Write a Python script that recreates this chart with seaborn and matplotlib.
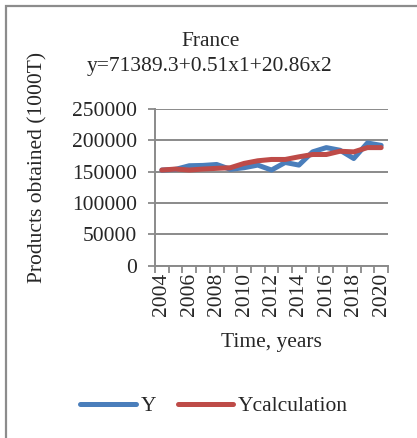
import matplotlib
matplotlib.use("Agg")
import matplotlib.pyplot as plt
import matplotlib.patches as mpatches
from matplotlib.ticker import FixedLocator
import pandas as pd
import seaborn as sns

YEARS = list(range(2004, 2021))
Y_ACTUAL = [152600, 153700, 159500, 160000, 161500, 153700, 156300, 160500, 152600,
            164700, 160500, 181600, 188400, 184200, 171000, 195800, 192000]
Y_CALC = [152600, 154200, 152600, 154200, 155300, 156300, 163200, 167400, 169500,
          169500, 173700, 177400, 177400, 182600, 181600, 188400, 188400]
SERIES = ["Y", "Ycalculation"]
COLORS = ["#4A7EBB", "#BE4B48"]
TITLE = "France"
EQUATION = "y=71389.3+0.51x1+20.86x2"
GRID = "#8a8a8a"
FS = 15.5

df = pd.DataFrame({
    "year": YEARS * 2,
    "value": Y_ACTUAL + Y_CALC,
    "series": [SERIES[0]] * len(YEARS) + [SERIES[1]] * len(YEARS),
})

sns.set_theme(style="white")
plt.rcParams["font.family"] = ["Liberation Serif", "DejaVu Serif"]
plt.rcParams["font.size"] = FS

W, H = 417, 438
fig = plt.figure(figsize=(W / 100, H / 100), dpi=100)
ax = fig.add_axes([155 / W, 1 - 265.7 / H, (388 - 155) / W, (265.7 - 109) / H])

sns.lineplot(data=df, x="year", y="value", hue="series", palette=COLORS,
             linewidth=3.6, ax=ax, legend=True, solid_capstyle="round")

ax.set_xlim(2003.5, 2020.5)
ax.set_ylim(0, 250000)
ax.set_yticks(range(0, 250001, 50000))
ax.set_xticks(YEARS[::2])
ax.set_xticklabels([str(y) for y in YEARS[::2]], rotation=90, fontsize=FS)
ax.xaxis.set_minor_locator(FixedLocator([y - 0.5 for y in YEARS] + [2020.5]))
ax.tick_params(axis="x", which="major", length=0, pad=5)
ax.tick_params(axis="x", which="minor", length=5, width=1.3, color=GRID, direction="out")
ax.tick_params(axis="y", length=5, width=1.3, color=GRID, pad=8, labelsize=FS, left=True)
ax.tick_params(axis="x", bottom=True, which="both")
ax.grid(axis="y", color=GRID, linewidth=1.4)
ax.set_axisbelow(True)
for side in ["top", "right"]:
    ax.spines[side].set_visible(False)
for side in ["left", "bottom"]:
    ax.spines[side].set_color(GRID)
    ax.spines[side].set_linewidth(1.4)
ax.set_xlabel("")
ax.set_ylabel("")

handles, labels = ax.get_legend_handles_labels()
ax.get_legend().remove()
fig.legend(handles, labels, loc="center", bbox_to_anchor=(214 / W, 1 - 406 / H),
           ncol=2, frameon=False, fontsize=FS, handlelength=2.6, handletextpad=0.2,
           columnspacing=1.0)

fig.text(211 / W, 1 - 41 / H, TITLE, ha="center", va="center", fontsize=FS)
fig.text(210 / W, 1 - 66 / H, EQUATION, ha="center", va="center", fontsize=FS)
fig.text(38 / W, 1 - 167 / H, "Products obtained (1000T)", rotation=90,
         ha="center", va="center", fontsize=FS)
fig.text(271 / W, 1 - 343 / H, "Time, years", ha="center", va="center", fontsize=FS)

fig.add_artist(mpatches.Rectangle((6 / W, -0.5), 2, 1.5 - 6 / H, transform=fig.transFigure,
                                  fill=False, edgecolor="#8c8c8c", linewidth=1.6))

fig.savefig("out.png", dpi=100)
